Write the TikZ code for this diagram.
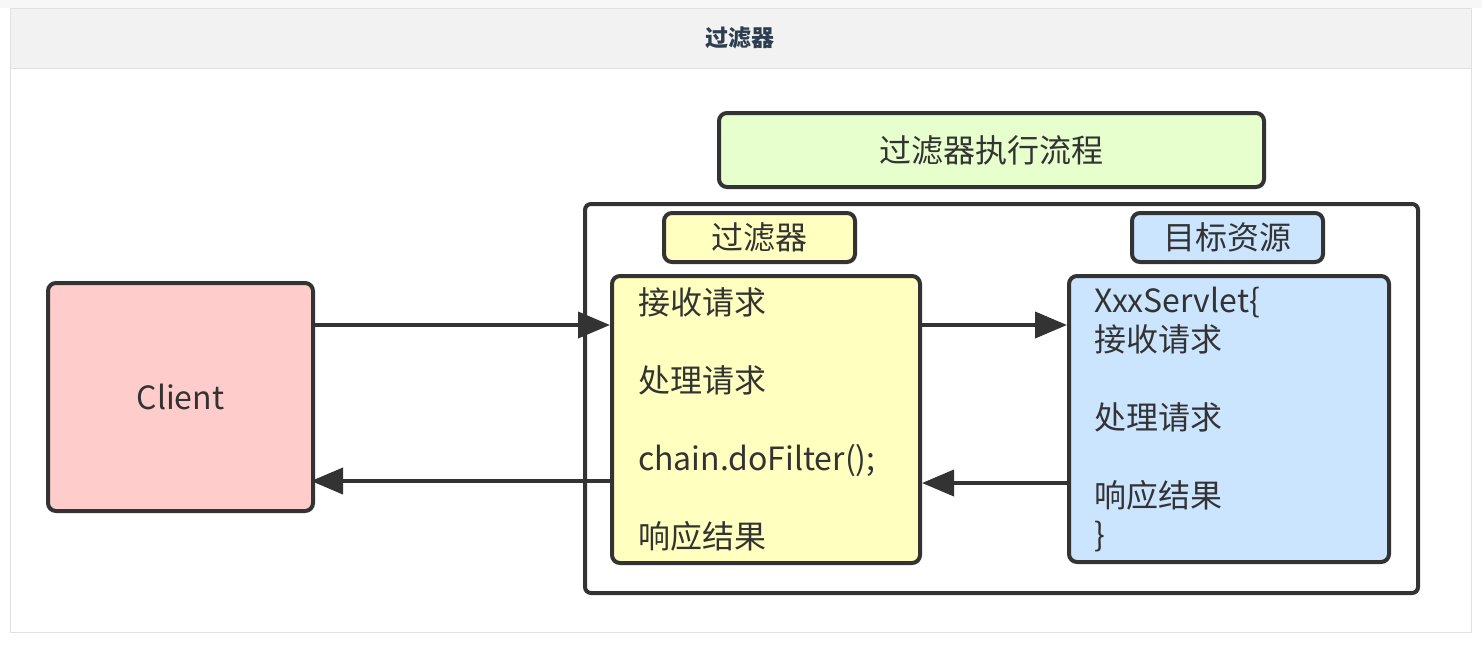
\documentclass[tikz,border=0pt]{standalone}
\usepackage{fontspec}
\setmainfont{Noto Sans CJK SC}
\usetikzlibrary{arrows.meta, positioning}

\definecolor{linegray}{HTML}{333333}
\definecolor{textgray}{HTML}{333333}
\definecolor{clientred}{HTML}{FFCCCC}
\definecolor{filteryellow}{HTML}{FFFFC0}
\definecolor{targetblue}{HTML}{CCE5FF}
\definecolor{titlegreen}{HTML}{E6FFCC}
\definecolor{headgray}{HTML}{F2F2F2}
\definecolor{framegray}{HTML}{E0E0E0}
\definecolor{headtext}{HTML}{2C3E50}

\begin{document}
\begin{tikzpicture}[
    x=0.5pt, y=-0.5pt,
    box/.style={rectangle, draw=linegray, line width=2pt, rounded corners=4pt, text=textgray, font=\fontsize{16}{19.5}\selectfont},
    tagbox/.style={box, minimum width=95.5pt, minimum height=24.5pt, inner sep=0pt},
    listbox/.style={box, align=left, inner ysep=0pt},
    arrow/.style={-{Triangle[length=16pt, width=13pt]}, line width=2pt, draw=linegray}
]
    \useasboundingbox (0,0) rectangle (1482,648);
    % page frame and header
    \fill[headgray!60] (0,0) rectangle (1482,8);
    \draw[framegray, fill=white] (10,8) rectangle (1471,632);
    \draw[framegray, fill=headgray] (10,8) rectangle (1471,68);
    \node[text=headtext, font=\fontsize{11.5}{13}\selectfont\bfseries] (head) at (740,38) {过滤器};

    \node[box, fill=titlegreen, minimum width=272.5pt, minimum height=37pt] (title) at (991.5,150) {过滤器执行流程};
    \node[box, fill=white, rounded corners=3pt, minimum width=416.5pt, minimum height=194.5pt] (frame) at (1001.5,398.5) {};

    \node[tagbox, fill=filteryellow] (filtertag) at (759.5,237.5) {过滤器};
    \node[tagbox, fill=targetblue] (targettag) at (1227.5,237.5) {目标资源};

    \node[listbox, fill=filteryellow, inner xsep=13pt, text width=128pt, minimum height=143.5pt] (filter) at (766,419.5)
        {接收请求\\[19.5pt]处理请求\\[19.5pt]chain.doFilter();\\[19.5pt]响应结果};
    \node[listbox, fill=targetblue, inner xsep=12.5pt, text width=135pt, minimum height=143pt] (target) at (1229,419)
        {XxxServlet\{\\接收请求\\[19.5pt]处理请求\\[19.5pt]响应结果\\\}};

    \node[box, fill=clientred, minimum width=132.5pt, minimum height=114pt] (client) at (180.5,397) {Client};

    \coordinate (req) at (0,325);
    \coordinate (back) at (0,481);
    \coordinate (resp) at (0,483);
    \draw[arrow] (client.east |- req) -- (filter.west |- req);
    \draw[arrow] (filter.east |- req) -- (target.west |- req);
    \draw[arrow] (target.west |- resp) -- (filter.east |- resp);
    \draw[arrow] (filter.west |- back) -- ([xshift=-2pt]client.east |- back);
\end{tikzpicture}
\end{document}
